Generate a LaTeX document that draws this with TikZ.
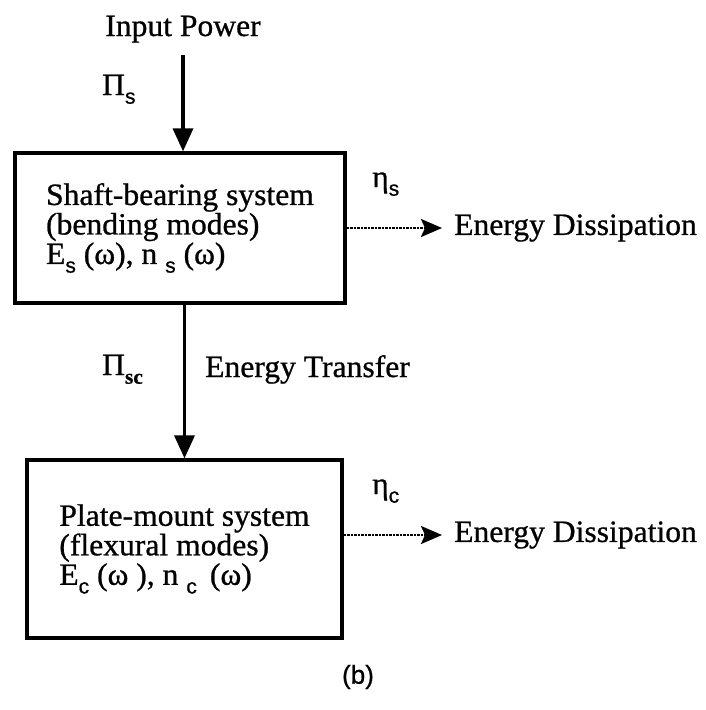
\documentclass[tikz,border=0pt]{standalone}
\usepackage{fontspec}
\setmainfont{Liberation Serif}[FakeStretch=1.02, FakeBold=0.8]
\setsansfont{Liberation Sans}[FakeBold=0.8]
\usetikzlibrary{arrows.meta, positioning}
\newcommand{\subsf}[1]{\raisebox{-0.28em}{\sffamily\fontsize{21}{21}\selectfont #1}}
\newcommand{\subbf}[1]{\raisebox{-0.28em}{\bfseries\fontsize{21}{21}\selectfont #1}}
\tikzset{
  sysbox/.style={draw, line width=3.3pt, align=left, inner sep=0pt,
    font=\fontsize{31}{29.5}\selectfont},
  flow/.style={line width=3.5pt, -{Triangle[length=23pt,width=20pt]}},
  loss/.style={line width=2.5pt, densely dotted, -{Stealth[length=21pt,width=18pt,inset=4pt]}},
  lbl/.style={inner sep=0pt, font=\fontsize{31}{36}\selectfont},
}

\begin{document}
\begin{tikzpicture}[x=1pt, y=-1pt]
        \useasboundingbox (0,0) rectangle (705,710);

        % Input
        \node[lbl, anchor=base] (inp) at (183,36) {Input Power};
        \coordinate (src) at (183,55);

        % Systems
        \node[sysbox, minimum width=330pt, minimum height=150pt] (shaft) at (180,228)
          {Shaft-bearing system\\(bending modes)\\E\subsf{s} (ω), n \subsf{s} (ω)};
        \node[sysbox, minimum width=315pt, minimum height=178pt] (plate) at (184.5,549)
          {Plate-mount system\\(flexural modes)\\E\subsf{c} (ω ), n \subsf{c}\, (ω)};

        % Power flow
        \draw[flow] (src) -- (src |- shaft.north);
        \draw[flow] (shaft.south -| plate.north) -- (plate.north);
        \node[lbl, anchor=base west] (pis) at (102,95) {Π\subsf{s}};
        \node[lbl, anchor=base west] (pisc) at (102,375) {Π\subbf{sc}};
        \node[lbl, anchor=base west] (trans) at (205,377) {Energy Transfer};

        % Dissipation
        \node[lbl, anchor=west] (dis1) at (454,228) {Energy Dissipation};
        \node[lbl, anchor=west] (dis2) at (454,535) {Energy Dissipation};
        \node[lbl, anchor=base west] (etas) at (372,187) {η\subsf{s}};
        \node[lbl, anchor=base west] (etac) at (372,494) {η\subsf{c}};
        \draw[loss] (shaft.east) -- ([xshift=-12pt]dis1.west);
        \draw[loss] (dis2.west -| plate.east) -- ([xshift=-12pt]dis2.west);

        % Caption
        \node[inner sep=0pt, font=\sffamily\fontsize{26}{30}\selectfont] (cap) at (358,677) {(b)};
\end{tikzpicture}
\end{document}
